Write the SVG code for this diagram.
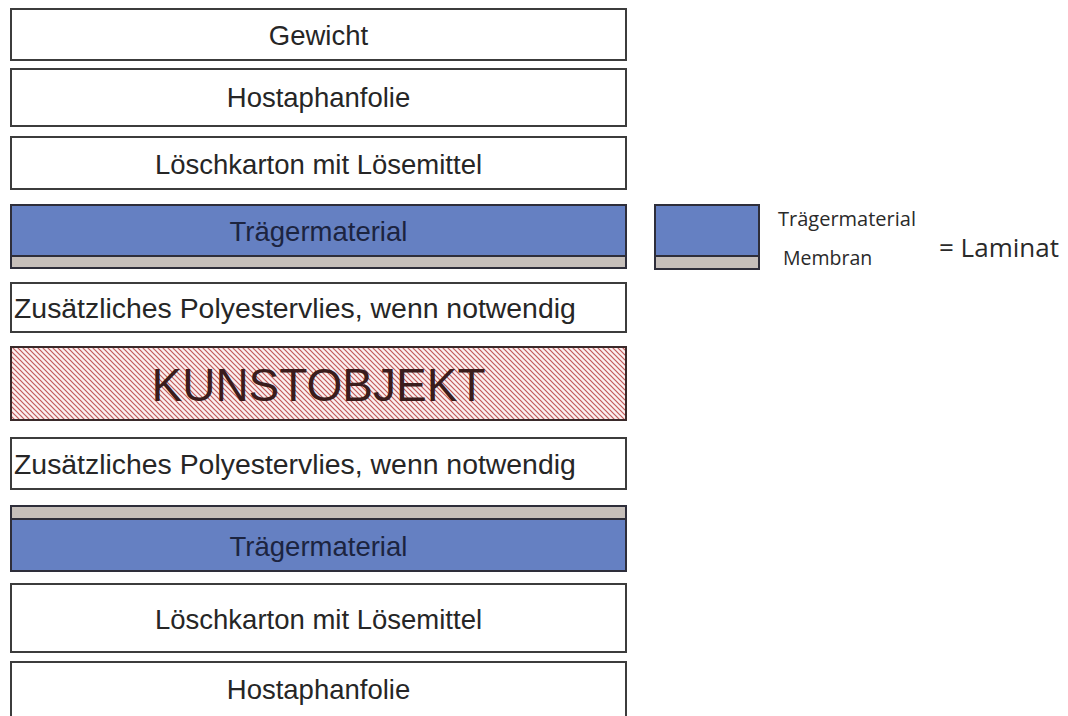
<svg xmlns="http://www.w3.org/2000/svg" width="1068" height="716" viewBox="0 0 1068 716">
<defs>
<style>
.box{fill:#ffffff;stroke:#3c3c3c;stroke-width:2}
.blue{fill:#6580c2;stroke:#2e2e3a;stroke-width:2}
.mem{fill:#c6bfba;stroke:#2e2e3a;stroke-width:2}
.t{font-family:"Liberation Sans",Arial,sans-serif;font-size:27.5px;fill:#262626;text-anchor:middle}
.ts{font-family:"Liberation Sans",Arial,sans-serif;font-size:28.4px;fill:#262626;text-anchor:start}
.tb{font-family:"Liberation Sans",Arial,sans-serif;font-size:27.5px;fill:#1c2440;text-anchor:middle}
.leg{font-family:"Open Sans","DejaVu Sans",sans-serif;fill:#2a2a2a}
</style>
<pattern id="hatch" patternUnits="userSpaceOnUse" width="5" height="5">
<rect width="5" height="5" fill="#fbf0f0"/>
<path d="M-1,-1 L6,6 M-1,4 L1,6 M4,-1 L6,1" stroke="#c25a5a" stroke-width="1.2"/>
</pattern>
</defs>
<rect width="1068" height="716" fill="#ffffff"/>
<g id="gewicht"><rect class="box" x="11" y="9" width="615" height="51"/><text class="t" x="318.5" y="45">Gewicht</text></g>
<g id="hostaphan1"><rect class="box" x="11" y="69" width="615" height="57"/><text class="t" x="318.5" y="107">Hostaphanfolie</text></g>
<g id="loeschkarton1"><rect class="box" x="11" y="137" width="615" height="52"/><text class="t" x="318.5" y="174">Löschkarton mit Lösemittel</text></g>
<g id="traeger1"><rect class="blue" x="11" y="205" width="615" height="51"/><rect class="mem" x="11" y="256" width="615" height="12"/><text class="tb" x="318.5" y="241">Trägermaterial</text></g>
<g id="vlies1"><rect class="box" x="11" y="283" width="615" height="49"/><text class="ts" x="14" y="318">Zusätzliches Polyestervlies, wenn notwendig</text></g>
<g id="kunstobjekt"><rect x="11" y="347" width="615" height="73" fill="url(#hatch)" stroke="#3a2a2a" stroke-width="2"/><text x="318.5" y="401" font-family="Liberation Sans,Arial,sans-serif" font-size="46" fill="#3a1c1c" text-anchor="middle">KUNSTOBJEKT</text></g>
<g id="vlies2"><rect class="box" x="11" y="438" width="615" height="51"/><text class="ts" x="14" y="474">Zusätzliches Polyestervlies, wenn notwendig</text></g>
<g id="traeger2"><rect class="mem" x="11" y="506" width="615" height="13"/><rect class="blue" x="11" y="519" width="615" height="52"/><text class="tb" x="318.5" y="556">Trägermaterial</text></g>
<g id="loeschkarton2"><rect class="box" x="11" y="584" width="615" height="68"/><text class="t" x="318.5" y="629">Löschkarton mit Lösemittel</text></g>
<g id="hostaphan2"><rect class="box" x="11" y="662" width="615" height="70"/><text class="t" x="318.5" y="699">Hostaphanfolie</text></g>
<g id="legende">
<rect class="blue" x="655" y="205" width="104" height="51"/><rect class="mem" x="655" y="256" width="104" height="13"/>
<text class="leg" x="778" y="226" font-size="20">Trägermaterial</text>
<text class="leg" x="783" y="265" font-size="19.5">Membran</text>
<text class="leg" x="939" y="257" font-size="26">= Laminat</text>
</g>
<g id="connectors"/>
</svg>
